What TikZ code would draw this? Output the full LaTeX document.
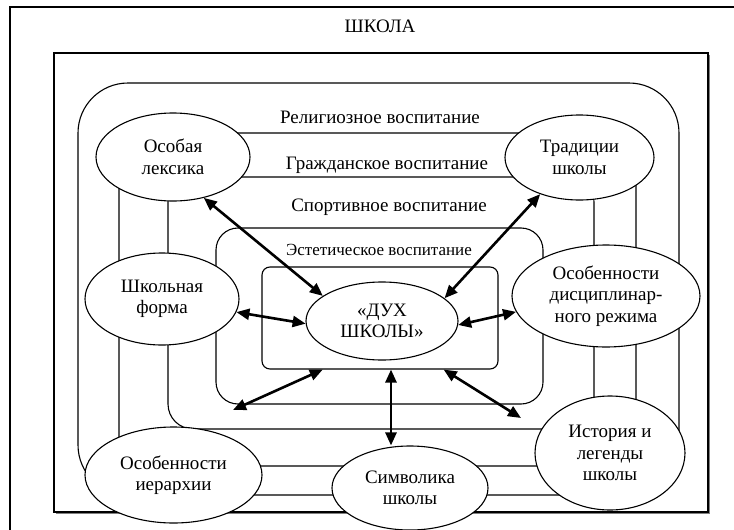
\documentclass[tikz,border=0pt]{standalone}
\usepackage{fontspec}
\setmainfont{Liberation Serif}
\usetikzlibrary{arrows.meta,shapes.geometric}
\begin{document}
\begin{tikzpicture}[x=1pt,y=-1pt,
  frame/.style={draw, line width=1.1pt},
  ell/.style={ellipse, draw, line width=1.1pt, fill=white, inner sep=0pt, align=center, font=\fontsize{19}{21.5}\selectfont},
  lbl/.style={font=\fontsize{19}{21.5}\selectfont, inner sep=0pt},
  dbl/.style={line width=2.6pt, {Triangle[length=13pt,width=11pt]}-{Triangle[length=13pt,width=11pt]}},
]
\useasboundingbox (0,0) rectangle (734,530);
\clip (0,0) rectangle (734,530);
\fill[white] (0,0) rectangle (734,530);
% outer frames
\draw[frame] (10,7) rectangle (760,560);
\draw[gray, line width=1.3pt] (709.6,54.5) -- (709.6,513.6) -- (55.5,513.6);
\draw[frame] (54,53) rectangle (708,512);
% upbringing frames
\draw[frame, rounded corners=50pt] (78,83) rectangle (679,495);
\draw[frame, rounded corners=20pt] (119,133) rectangle (636,466);
\draw[frame, rounded corners=25pt] (168,177) rectangle (594,429);
\draw[frame, rounded corners=22pt] (216,228) rectangle (543,404);
% labels
\node[lbl] (school) at (380,26) {ШКОЛА};
\node[lbl] (relig) at (380,117) {Религиозное воспитание};
\node[lbl] (civil) at (387,165) {Гражданское воспитание};
\node[lbl] (sport) at (389,207) {Спортивное воспитание};
\node[lbl, font=\fontsize{17}{20}\selectfont] (aesth) at (379,250) {Эстетическое воспитание};
% inner box
\node[draw, line width=1.1pt, rounded corners=8pt, minimum width=236pt, minimum height=102pt, inner sep=0pt] (inner) at (380,318) {};
% ellipses
\node[ell, minimum width=154pt, minimum height=88pt] (osob) at (173,157) {Особая\\лексика};
\node[ell, minimum width=149pt, minimum height=85pt] (trad) at (579.5,157.5) {Традиции\\школы};
\node[ell, minimum width=154pt, minimum height=92pt] (shkf) at (162,299) {Школьная\\форма};
\node[ell, minimum width=152pt, minimum height=78pt] (duh) at (382,321) {«ДУХ\\ШКОЛЫ»};
\node[ell, minimum width=188pt, minimum height=102pt] (disc) at (606,296) {Особенности\\дисциплинар-\\ного режима};
\node[ell, minimum width=150pt, minimum height=114pt] (ist) at (610,453) {История и\\легенды\\школы};
\node[ell, minimum width=177pt, minimum height=96pt] (ier) at (173.5,475) {Особенности\\иерархии};
\node[ell, minimum width=156pt, minimum height=84pt] (symb) at (410,488) {Символика\\школы};
% arrows
\coordinate (c5) at (233,410);
\coordinate (c6) at (521,418);
\coordinate (c7) at (391,0);
\draw[dbl] (osob.-53) -- (duh.157);
\draw[dbl] (trad.-137) -- (duh.20);
\draw[dbl] (shkf.-10) -- (duh.182);
\draw[dbl] (duh.-3) -- (disc.190);
\draw[dbl] (inner.-138) -- (c5);
\draw[dbl] (inner.-39) -- (c6);
\draw[dbl] (inner.south -| c7) -- (symb.north -| c7);
\end{tikzpicture}
\end{document}
